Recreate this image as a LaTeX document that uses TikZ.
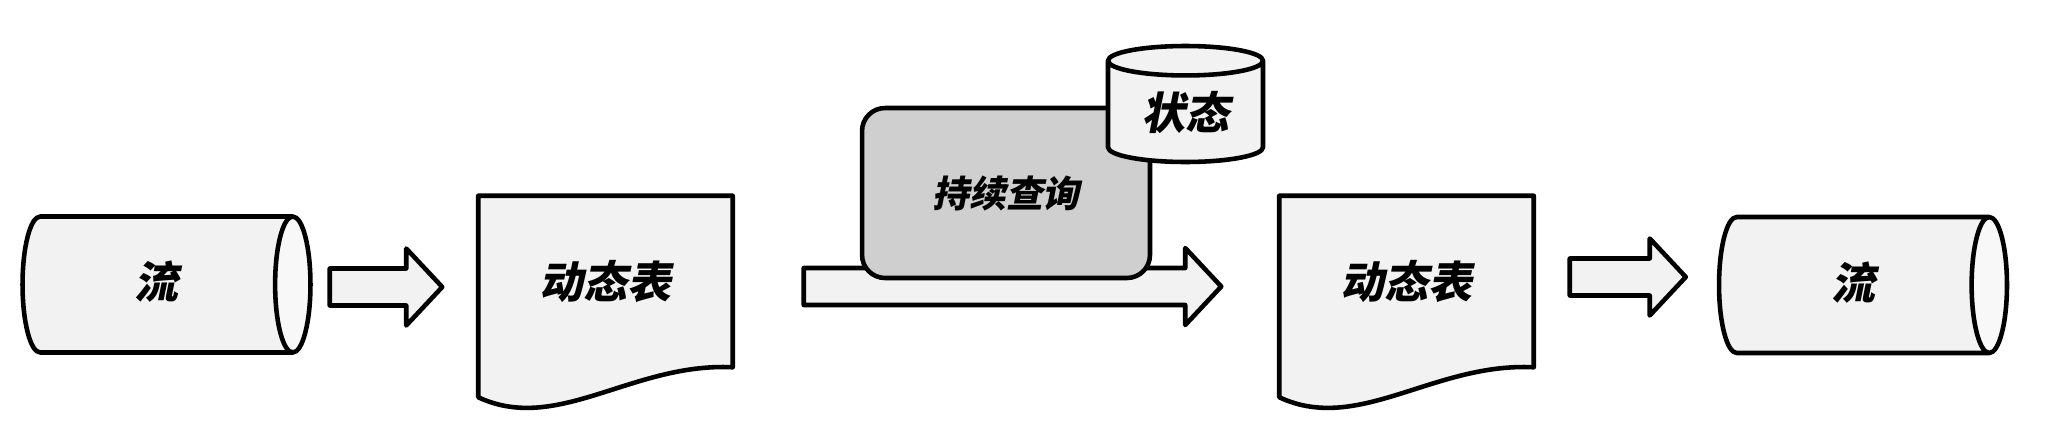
\documentclass[tikz,border=0pt]{standalone}
\usepackage{fontspec}
\newfontfamily\cjk{Noto Sans CJK SC}[FakeSlant=0.2]
\usetikzlibrary{shapes.geometric,calc,backgrounds}
\definecolor{paper}{HTML}{F2F2F2}
\definecolor{capfill}{HTML}{F8F8F8}
\definecolor{querygray}{HTML}{D0CFD0}

% hollow block arrow between two named points
\newcommand{\blockarrow}[2]{%
	\draw[arrowbox] ($(#1)+(0,-18.5)$) -- ($(#2)+(-36,-18.5)$) -- ($(#2)+(-36,-38.5)$) -- (#2)
		-- ($(#2)+(-36,38.5)$) -- ($(#2)+(-36,18.5)$) -- ($(#1)+(0,18.5)$) -- cycle;}

\begin{document}
\begin{tikzpicture}[x=0.02cm,y=-0.02cm, line width=2.6pt, line join=round,
		font=\cjk\bfseries\fontsize{25}{29}\selectfont,
		liu/.style={cylinder, draw, cylinder uses custom fill, cylinder body fill=paper,
			cylinder end fill=capfill, aspect=0.26, text height=1.64cm, text depth=1.08cm,
			minimum width=2.72cm, minimum height=5.76cm, inner sep=0pt},
		tblbox/.style={rectangle, minimum width=5cm, minimum height=3.34cm, inner sep=0pt},
		docshape/.style={draw, fill=paper, line width=2.6pt, line join=round},
		query/.style={rectangle, draw, fill=querygray, rounded corners=0.46cm,
			minimum width=5.76cm, minimum height=3.4cm, font=\cjk\bfseries\fontsize{21}{25}\selectfont},
		zhuangtai/.style={cylinder, shape border rotate=90, draw, cylinder uses custom fill,
			cylinder body fill=paper, cylinder end fill=paper, aspect=0.19,
			text width=3.1cm, align=center, minimum height=2.32cm, inner sep=0pt},
		arrowbox/.style={draw, fill=paper}]
	\useasboundingbox (0,0) rectangle (2055,430);
	
	\node[liu, anchor=shape center] (flow1) at (166.5,284.5) {流};
	\node[tblbox] (tbl1) at (605.5,281.5) {动态表};
	\node[tblbox] (tbl2) at (1406.5,281.5) {动态表};
	\node[liu, anchor=shape center] (flow2) at (1863,285) {流};
	\begin{scope}[on background layer]
		\draw[docshape] (tbl1.north west) -- (tbl1.north east) -- (tbl1.south east)
			.. controls +(-100,-5) and +(79,37) .. ($(tbl1.south west)+(0,30)$) -- cycle;
		\draw[docshape] (tbl2.north west) -- (tbl2.north east) -- (tbl2.south east)
			.. controls +(-100,-5) and +(79,37) .. ($(tbl2.south west)+(0,30)$) -- cycle;
	\end{scope}
	
	\coordinate (a1s) at ($(flow1.east)+(17,2.5)$);
	\coordinate (a1e) at ($(a1s -| tbl1.west)+(-36,0)$);
	\coordinate (a2s) at ($(tbl1.east)+(71,5)$);
	\coordinate (a2e) at ($(a2s -| tbl2.west)+(-58,0)$);
	\coordinate (a3s) at ($(tbl2.east)+(36,-4.5)$);
	\coordinate (a3e) at ($(a3s -| flow2.west)+(-31,0)$);
	\blockarrow{a1s}{a1e}
	\blockarrow{a2s}{a2e}
	\blockarrow{a3s}{a3e}
	
	\node[query] (qry) at (1006,193) {持续查询};
	\node[zhuangtai, anchor=shape center] (state) at (1185.5,104) {状态};
\end{tikzpicture}
\end{document}
